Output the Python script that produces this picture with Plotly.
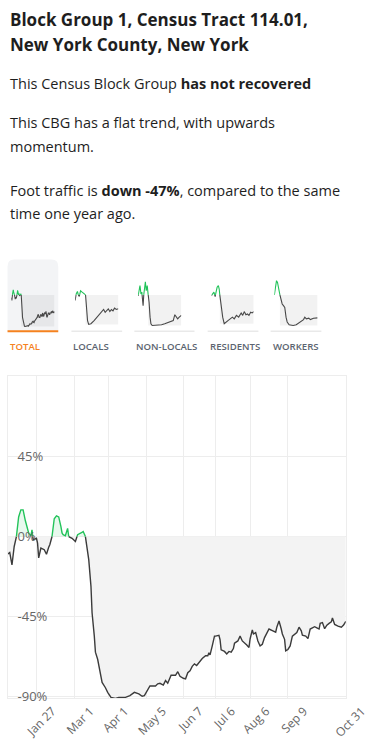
import pandas as pd
import plotly.graph_objects as go

W, H = 381, 747
START = pd.Timestamp("2020-01-01")
END_DAY = 304

# ---------------- data ----------------
# main series: day offset from 2020-01-01, % change vs one year ago
total_days = [0, 2, 4, 6, 8, 10, 12, 14, 16, 18, 19, 21, 22, 23, 26, 27, 28, 30, 33, 34, 35, 37, 38, 40,
              42, 44, 46, 48, 49, 50, 52, 54, 55, 58, 61, 63, 66, 68, 70, 73, 75, 76, 78, 79, 81, 83, 85,
              88, 90, 93, 97, 100, 106, 110, 114, 118, 121, 123, 126, 128, 133, 135, 137, 140, 142, 144,
              147, 151, 153, 155, 158, 160, 162, 164, 166, 168, 170, 172, 175, 178, 180, 181, 182, 184,
              186, 187, 190, 191, 192, 195, 197, 199, 201, 203, 204, 207, 209, 211, 213, 215, 217, 218,
              220, 221, 223, 225, 227, 229, 231, 233, 235, 238, 241, 242, 244, 246, 247, 249, 250, 252,
              254, 256, 258, 260, 262, 264, 265, 268, 270, 272, 274, 276, 278, 280, 281, 283, 285, 287,
              289, 291, 292, 294, 297, 300, 302, 304]
total_vals = [-10, -9, -16, -5.6, 0, 11, 15, 15, 9, 4, 2, 0.4, 3.7, -1.9, -1, -3.7, -12, -6.5, -7.4, -8.8,
              -10, -6, -4.6, 0, 10, 11.6, 11, 5.6, 2, 1, 0.4, 4.6, 0, -1, -2.8, 1, 2, 2.8, 0, -13, -28,
              -43, -56, -65, -69, -76, -82, -85, -87.6, -90.4, -91, -90.4, -90.4, -89.4, -87.6, -88.5,
              -89.8, -89.4, -86.6, -84, -84, -82.8, -82.5, -83.5, -81, -82.5, -78, -78, -76, -78.6,
              -79.7, -80, -76.6, -75.5, -73, -71.6, -72.5, -70.8, -68.6, -67, -67, -65.4, -66.5, -61.5,
              -56, -56, -55.6, -58, -63.7, -64.6, -66, -64.6, -65, -63, -60, -58.7, -56, -58.7, -59.6,
              -61, -62.4, -57.6, -52.5, -54.8, -54, -58.7, -61.5, -60.6, -56.8, -54, -52, -52.9, -53.8,
              -51, -47.5, -52, -54.8, -57.8, -64.3, -63.5, -61.5, -56, -55, -54, -51, -53, -55.5, -56,
              -57.4, -52, -51.3, -50.7, -51.3, -52, -48.8, -48.4, -51.8, -49.8, -48.8, -48, -45.8,
              -49.4, -50.4, -51, -49.8, -47.7]

locals_days = [0, 7, 16, 22, 29, 38, 49, 62, 73, 80, 87, 95, 111, 133, 155, 178, 189, 200, 211, 222, 233,
               244, 255, 266, 277, 289, 304]
locals_vals = [-16, 3, 10, 0, -4, 12, 8, 3, 0, -40, -74, -85, -83, -74, -64, -52, -48, -42, -50, -45,
               -40, -48, -42, -46, -38, -42, -40]

nonlocals_days = [0, 7, 13, 20, 26, 35, 40, 46, 51, 57, 64, 70, 77, 84, 90, 99, 121, 143, 165, 187, 209,
                  231, 247, 258, 267, 278, 289, 304]
nonlocals_vals = [-3, 17, 27, 3, 8, -31, 3, 32, 38, 12, 27, 3, -21, -64, -83, -88, -88, -87, -86, -83,
                  -80, -78, -74, -57, -61, -69, -64, -59]

residents_days = [0, 9, 18, 27, 34, 41, 50, 56, 63, 72, 81, 92, 106, 119, 135, 151, 164, 180, 196, 214,
                  225, 236, 248, 259, 270, 282, 293, 304]
residents_vals = [-2, 3, 8, -5, 12, 22, 27, 17, -11, -40, -64, -83, -77, -74, -69, -64, -69, -59, -64,
                  -52, -59, -48, -57, -55, -59, -50, -52, -48]

workers_days = [0, 4, 9, 15, 22, 29, 37, 46, 55, 64, 73, 82, 90, 104, 132, 154, 176, 192, 205, 214, 225,
                242, 253, 275, 304]
workers_vals = [0, 14, 29, 41, 36, 17, 3, -11, -26, -31, -36, -64, -78, -86, -88, -86, -80, -77, -71,
                -64, -69, -67, -71, -67, -66]

tab_labels = ["TOTAL", "LOCALS", "NON-LOCALS", "RESIDENTS", "WORKERS"]

tick_dates = ["2020-01-27", "2020-03-01", "2020-04-01", "2020-05-05", "2020-06-07",
              "2020-07-06", "2020-08-06", "2020-09-09", "2020-10-31"]
tick_text = ["Jan 27", "Mar 1", "Apr 1", "May 5", "Jun 7", "Jul 6", "Aug 6", "Sep 9", "Oct 31"]
y_ticks = [-90, -45, 0, 45]
y_tick_text = ["-90%", "-45%", "0%", "45%"]

# ---------------- helpers ----------------
def px(x):
    return x / W

def py(y):
    return 1 - y / H

def to_dates(days):
    return [START + pd.Timedelta(days=float(d)) for d in days]

def split_zero(days, vals):
    xs, ys = [days[0]], [vals[0]]
    for i in range(1, len(days)):
        d0, v0, d1, v1 = days[i - 1], vals[i - 1], days[i], vals[i]
        if (v0 < 0 < v1) or (v0 > 0 > v1):
            t = v0 / (v0 - v1)
            xs.append(d0 + t * (d1 - d0))
            ys.append(0.0)
        xs.append(d1)
        ys.append(v1)
    return xs, ys

GREEN = "#22c35a"
DARK = "#3b3b3b"
GRID = "#ededed"

fig = go.Figure()

# ---------------- main chart ----------------
xs, ys = split_zero(total_days, total_vals)
xd = to_dates(xs)
fig.add_trace(go.Scatter(x=xd, y=[min(v, 0) for v in ys], mode="lines", line=dict(width=0),
                         fill="tozeroy", fillcolor="#f3f3f3", hoverinfo="skip", showlegend=False))
fig.add_trace(go.Scatter(x=xd, y=[max(v, 0) for v in ys], mode="lines", line=dict(width=0),
                         fill="tozeroy", fillcolor="rgba(34,195,90,0.10)", hoverinfo="skip",
                         showlegend=False))
fig.add_trace(go.Scatter(x=xd, y=[v if v <= 0 else None for v in ys], mode="lines",
                         line=dict(color=DARK, width=1.4), connectgaps=False, showlegend=False))
fig.add_trace(go.Scatter(x=xd, y=[v if v >= 0 else None for v in ys], mode="lines",
                         line=dict(color=GREEN, width=1.4), connectgaps=False, showlegend=False))
# invisible trace carrying the inside y-axis labels
fig.add_trace(go.Scatter(x=[xd[0]], y=[0], mode="markers", marker=dict(opacity=0),
                         yaxis="y7", showlegend=False, hoverinfo="skip"))

# ---------------- sparklines ----------------
spark_series = [(total_days, total_vals), (locals_days, locals_vals), (nonlocals_days, nonlocals_vals),
                (residents_days, residents_vals), (workers_days, workers_vals)]
spark_x = [(12, 58), (80, 126), (147, 193), (225, 270), (292, 338)]
tab_x = [(8, 62), (76, 130), (143, 207), (221, 275), (288, 342)]

shapes = []
# TOTAL tab background with rounded top corners
x0, x1, yt, yb, r = px(8), px(62), py(262), py(334), 7
rx, ry = r / W, r / H
shapes.append(dict(type="path", xref="paper", yref="paper", layer="below",
                   path=(f"M {x0},{yb} L {x0},{yt - ry} Q {x0},{yt} {x0 + rx},{yt} "
                         f"L {x1 - rx},{yt} Q {x1},{yt} {x1},{yt - ry} L {x1},{yb} Z"),
                   fillcolor="#f3f4f6", line=dict(width=0)))

layout_axes = {}
for i, ((d, v), (sx0, sx1)) in enumerate(zip(spark_series, spark_x)):
    n = i + 2
    xa, ya = f"x{n}", f"y{n}"
    sxs, sys_ = split_zero(d, v)
    sd = to_dates(sxs)
    fig.add_trace(go.Scatter(x=sd, y=[q if q <= 0 else None for q in sys_], mode="lines",
                             line=dict(color="#484848", width=1.1), xaxis=xa, yaxis=ya,
                             showlegend=False, hoverinfo="skip"))
    fig.add_trace(go.Scatter(x=sd, y=[q if q >= 0 else None for q in sys_], mode="lines",
                             line=dict(color=GREEN, width=1.1), xaxis=xa, yaxis=ya,
                             showlegend=False, hoverinfo="skip"))
    # shaded block: from the last crossing below zero to the end
    last_nonneg = max(j for j, q in enumerate(sys_) if q >= 0)
    shapes.append(dict(type="rect", xref=xa, yref=ya, layer="below",
                       x0=sd[last_nonneg], x1=sd[-1], y0=0, y1=min(v),
                       fillcolor="rgba(0,0,0,0.05)", line=dict(width=0)))
    layout_axes[f"xaxis{n}"] = dict(domain=[px(sx0), px(sx1)], visible=False, type="date",
                                    range=[START, START + pd.Timedelta(days=END_DAY)],
                                    anchor=ya, fixedrange=True)
    layout_axes[f"yaxis{n}"] = dict(domain=[py(331), py(276)], visible=False, range=[-95, 62],
                                    anchor=xa, fixedrange=True)

# tab underlines
for i, (tx0, tx1) in enumerate(tab_x):
    shapes.append(dict(type="line", xref="paper", yref="paper", x0=px(tx0), x1=px(tx1),
                       y0=py(334.3), y1=py(334.3),
                       line=dict(color="#f5821f" if i == 0 else "#e9e9e9",
                                 width=2 if i == 0 else 1.5)))

annotations = []
for i, (lab, (tx0, tx1)) in enumerate(zip(tab_labels, tab_x)):
    annotations.append(dict(text=lab, x=px(tx0), y=py(350), xref="paper", yref="paper",
                            xanchor="left", yanchor="middle", showarrow=False,
                            font=dict(family="Open Sans", size=9.6, weight=600,
                                      color="#f5821f" if i == 0 else "#5c6470")))

# header text
text_lines = [
    ("<b>Block Group 1, Census Tract 114.01,</b>", 20, 17),
    ("<b>New York County, New York</b>", 44.5, 17),
    ("This Census Block Group <b>has not recovered</b>", 84, 14.5),
    ("This CBG has a flat trend, with upwards", 124, 14.5),
    ("momentum.", 148, 14.5),
    ("Foot traffic is <b>down -47%</b>, compared to the same", 192, 14.5),
    ("time one year ago.", 216, 14.5),
]
for t, yc, fs in text_lines:
    annotations.append(dict(text=t, x=px(8), y=py(yc), xref="paper", yref="paper",
                            xanchor="left", yanchor="middle", showarrow=False,
                            font=dict(family="Open Sans", size=fs, color="#1e1e1e")))

fig.update_layout(
    width=W, height=H, margin=dict(l=0, r=0, t=0, b=0),
    paper_bgcolor="white", plot_bgcolor="white",
    showlegend=False, hovermode=False,
    font=dict(family="Open Sans", color="#666666"),
    shapes=shapes, annotations=annotations,
    xaxis=dict(type="date", domain=[px(8), px(368)],
               range=[START, START + pd.Timedelta(days=END_DAY)],
               tickmode="array", tickvals=tick_dates, ticktext=tick_text, tickangle=-45,
               tickfont=dict(size=12, color="#666666"), ticks="", ticklabelshift=16,
               ticklabeloverflow="allow",
               showgrid=True, gridcolor=GRID, gridwidth=1, zeroline=False,
               showline=True, linecolor=GRID, mirror=True, fixedrange=True),
    yaxis=dict(domain=[py(705), py(380)], range=[-91, 90],
               tickmode="array", tickvals=y_ticks, showticklabels=False, ticks="",
               showgrid=True, gridcolor=GRID, gridwidth=1, zeroline=False,
               showline=True, linecolor=GRID, mirror=True, fixedrange=True),
    yaxis7=dict(overlaying="y", anchor="free", position=px(8), side="left",
                range=[-91, 90], tickmode="array", tickvals=y_ticks, ticktext=y_tick_text,
                ticklabelposition="inside", ticklabelstandoff=6, ticklabeloverflow="allow",
                tickfont=dict(size=13, color="#666666"), ticks="",
                showgrid=False, zeroline=False, showline=False, fixedrange=True),
    **layout_axes,
)

# remove the browser's default page margin so the figure fills the 381x747 window exactly
fig.write_html(
    "out.html",
    config={"displayModeBar": False, "staticPlot": True},
    post_script=("document.documentElement.style.margin='0';document.body.style.margin='0';"
                 "document.documentElement.style.overflow='hidden';"
                 "document.body.style.overflow='hidden';"),
)
